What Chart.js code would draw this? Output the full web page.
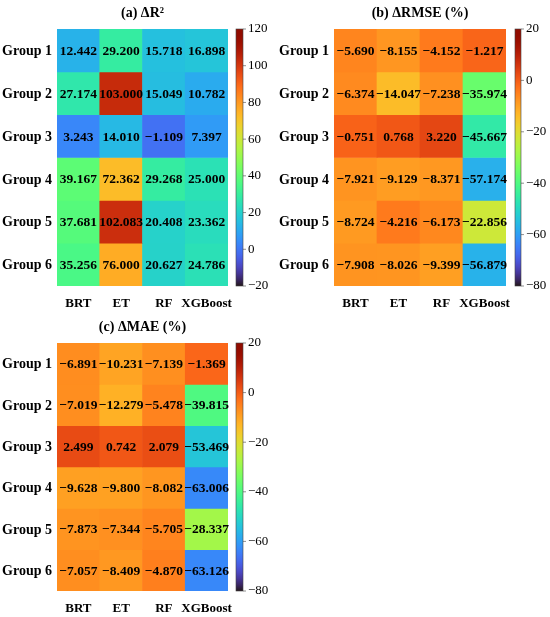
<!DOCTYPE html>
<html>
<head>
<meta charset="utf-8">
<script src="https://cdn.jsdelivr.net/npm/chart.js@4.4.0/dist/chart.umd.min.js"></script>
<style>
  body { margin: 0; background: #fff; }
  canvas { position: absolute; }
</style>
</head>
<body>
<canvas id="c1" width="275" height="312" style="left:0;top:0"></canvas>
<canvas id="c2" width="275" height="312" style="left:275px;top:0"></canvas>
<canvas id="c3" width="275" height="303" style="left:0;top:314px"></canvas>
<script>
const groups = ['Group 1', 'Group 2', 'Group 3', 'Group 4', 'Group 5', 'Group 6'];
const models = ['BRT', 'ET', 'RF', 'XGBoost'];

// rows = groups, columns = models
const deltaR2 = [
  [12.442, 29.200, 15.718, 16.898],
  [27.174, 103.000, 15.049, 10.782],
  [3.243, 14.010, -1.109, 7.397],
  [39.167, 72.362, 29.268, 25.000],
  [37.681, 102.083, 20.408, 23.362],
  [35.256, 76.000, 20.627, 24.786]
];
const deltaRMSE = [
  [-5.690, -8.155, -4.152, -1.217],
  [-6.374, -14.047, -7.238, -35.974],
  [-0.751, 0.768, 3.220, -45.667],
  [-7.921, -9.129, -8.371, -57.174],
  [-8.724, -4.216, -6.173, -22.856],
  [-7.908, -8.026, -9.399, -56.879]
];
const deltaMAE = [
  [-6.891, -10.231, -7.139, -1.369],
  [-7.019, -12.279, -5.478, -39.815],
  [2.499, 0.742, 2.079, -53.469],
  [-9.628, -9.800, -8.082, -63.006],
  [-7.873, -7.344, -5.705, -28.337],
  [-7.057, -8.409, -4.870, -63.126]
];
const ticksR2 = [-20, 0, 20, 40, 60, 80, 100, 120];
const ticksPct = [-80, -60, -40, -20, 0, 20];

const FONT = '"Liberation Serif", "DejaVu Serif", serif';

function turbo(x) {
  x = Math.max(0, Math.min(1, x));
  const r = 0.13572138 + x*(4.61539260 + x*(-42.66032258 + x*(132.13108234 + x*(-152.94239396 + x*59.28637943))));
  const g = 0.09140261 + x*(2.19418839 + x*(4.84296658 + x*(-14.18503333 + x*(4.27729857 + x*2.82956604))));
  const b = 0.10667330 + x*(12.64194608 + x*(-60.58204836 + x*(110.36276771 + x*(-89.90310912 + x*27.34824973))));
  const c = v => Math.round(Math.max(0, Math.min(1, v)) * 255);
  return `rgb(${c(r)},${c(g)},${c(b)})`;
}

function fmt(v) { return v.toFixed(3).replace('-', '\u2212'); }

function makeHeatmap(id, title, values, cticks, padRight, axisWidth, cbGap, cbWidth) {
  const vmin = cticks[0], vmax = cticks[cticks.length - 1];
  const color = v => turbo((v - vmin) / (vmax - vmin));
  const datasets = groups.map((g, i) => ({
    label: g,
    data: models.map(() => [i, i + 1]),
    raw: values[i],
    backgroundColor: values[i].map(color),
    borderWidth: 0,
    grouped: false,
    barPercentage: 1.0,
    categoryPercentage: 1.0
  }));

  const extras = {
    id: 'extras',
    afterDatasetsDraw(chart) {
      const ctx = chart.ctx;
      const a = chart.chartArea;
      const ys = chart.scales.y;
      ctx.save();
      // cell labels
      ctx.font = 'bold 13.5px ' + FONT;
      ctx.fillStyle = '#000';
      ctx.textAlign = 'center';
      ctx.textBaseline = 'middle';
      chart.data.datasets.forEach((ds, di) => {
        chart.getDatasetMeta(di).data.forEach((el, j) => {
          const y = (el.y + el.base) / 2;
          ctx.fillText(fmt(ds.raw[j]), el.x, y + 1);
        });
      });
      // row labels
      ctx.font = 'bold 14px ' + FONT;
      ctx.textAlign = 'right';
      groups.forEach((g, i) => ctx.fillText(g, a.left - 5, ys.getPixelForValue(i + 0.5) + 1));
      // title
      ctx.textAlign = 'center';
      ctx.fillText(title, (a.left + a.right) / 2, 13);
      // colorbar
      const x0 = a.right + cbGap;
      const grad = ctx.createLinearGradient(0, a.bottom, 0, a.top);
      for (let k = 0; k <= 40; k++) grad.addColorStop(k / 40, turbo(k / 40));
      ctx.fillStyle = grad;
      ctx.fillRect(x0, a.top, cbWidth, a.bottom - a.top);
      ctx.strokeStyle = '#444';
      ctx.lineWidth = 0.6;
      ctx.strokeRect(x0, a.top, cbWidth, a.bottom - a.top);
      ctx.font = '13px ' + FONT;
      ctx.fillStyle = '#000';
      ctx.textAlign = 'left';
      cticks.forEach(t => {
        const y = a.bottom - (t - vmin) / (vmax - vmin) * (a.bottom - a.top);
        ctx.beginPath();
        ctx.moveTo(x0 + cbWidth, y);
        ctx.lineTo(x0 + cbWidth + 3, y);
        ctx.stroke();
        ctx.fillText(String(t).replace('-', '\u2212'), x0 + cbWidth + 5, y);
      });
      ctx.restore();
    }
  };

  return new Chart(document.getElementById(id), {
    type: 'bar',
    data: { labels: models, datasets },
    options: {
      responsive: false,
      animation: false,
      layout: { padding: { top: 29, right: padRight, left: 0, bottom: 0 } },
      plugins: { legend: { display: false }, tooltip: { enabled: false }, title: { display: false } },
      scales: {
        x: {
          grid: { display: false },
          border: { display: false },
          ticks: { color: '#000', font: { family: FONT, size: 13, weight: 'bold' }, padding: 2, maxRotation: 0, autoSkip: false },
          afterFit(s) { s.height = 26; }
        },
        y: {
          min: 0, max: 6, reverse: true,
          grid: { display: false },
          border: { display: false },
          ticks: { display: false },
          afterFit(s) { s.width = axisWidth; }
        }
      }
    },
    plugins: [extras]
  });
}

makeHeatmap('c1', '(a) \u0394R\u00B2', deltaR2, ticksR2, 47, 57, 8, 7);
makeHeatmap('c2', '(b) \u0394RMSE (%)', deltaRMSE, ticksPct, 44, 59, 9, 6);
makeHeatmap('c3', '(c) \u0394MAE (%)', deltaMAE, ticksPct, 47, 57, 8, 7);
</script>
</body>
</html>
